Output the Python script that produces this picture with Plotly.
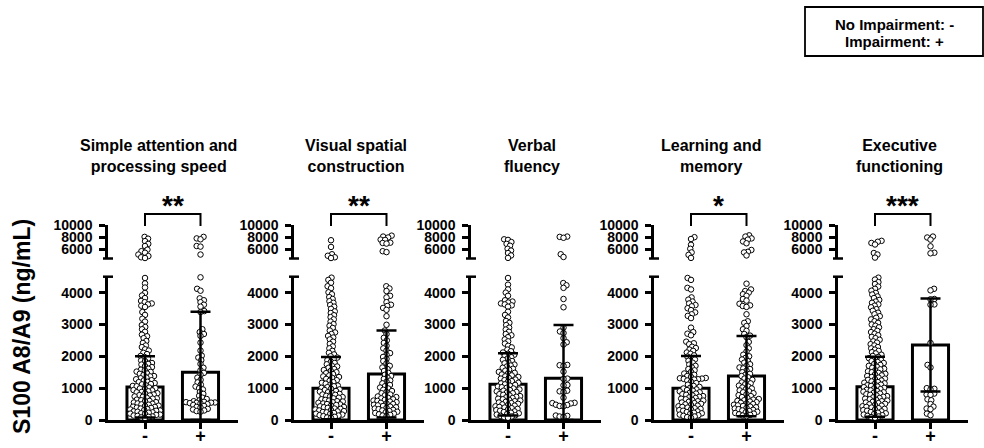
import math
import plotly.graph_objects as go

# ---------------------------------------------------------------- data
domains = [
    "Simple attention and<br>processing speed",
    "Visual spatial<br>construction",
    "Verbal<br>fluency",
    "Learning and<br>memory",
    "Executive<br>functioning",
]
groups = ["-", "+"]
significance = ["**", "**", "", "*", "***"]

# bar heights (ng/mL) and error-bar half lengths, per domain: [no impairment, impairment]
bar_means = [[1040, 1500], [1000, 1445], [1120, 1310], [1000, 1380], [1047, 2355]]
bar_errors = [[960, 1900], [980, 1365], [975, 1675], [1010, 1260], [943, 1460]]

# individual S100 A8/A9 values (ng/mL)
simple_neg = [8050, 7750, 7350, 6900, 6550, 5950, 5700, 5450, 5150, 4900, 4700, 4580,
              4460, 4290, 4160, 3990, 3910, 3830, 3740, 3700, 3660, 3630, 3590, 3550,
              3390, 3300, 3180, 3090, 2980, 2920, 2850, 2770, 2680, 2630, 2570, 2480, 2420,
              2340, 2290, 2220, 2180, 2110, 2070, 2010, 1980, 1930, 1870, 1850, 1790, 1760,
              1740, 1690, 1660, 1610, 1580, 1560, 1520, 1510, 1460, 1450, 1410, 1380, 1370,
              1330, 1310, 1280, 1250, 1240, 1200, 1190, 1160, 1130, 1120, 1090, 1070, 1060,
              1020, 1000, 990, 970, 940, 930, 900, 880, 870, 840, 830, 800, 780, 770, 740,
              730, 700, 680, 670, 640, 620, 600, 590, 560, 550, 520, 510, 490, 480, 450, 440,
              420, 410, 390, 380, 360, 340, 330, 310, 300, 290, 270, 260, 240, 230, 210, 200,
              190, 170, 160, 140, 130, 110, 100, 80, 60]
simple_pos = [8050, 7800, 7650, 6550, 6450, 5150,
              4480, 4120, 4060, 3820, 3760, 3700, 3620, 3560, 3420, 3390, 2850, 2760, 2700,
              2640, 2430, 2180, 2020, 1960, 1880, 1760, 1640, 1560, 1480, 1420, 1330, 1260,
              1180, 1110, 1050, 1000, 960, 880, 820, 760, 700, 660, 620, 590, 570, 560, 550,
              545, 540, 530, 520, 500, 470, 440, 410, 390, 350, 330, 300, 280, 260]

visual_neg = [7500, 6400, 5200, 4950, 4700, 4580,
              4470, 4400, 4310, 4200, 4140, 4010, 3950, 3860, 3800, 3730, 3680, 3610, 3560,
              3490, 3410, 3360, 3290, 3230, 3160, 3090, 3010, 2960, 2890, 2810, 2750, 2700,
              2640, 2590, 2530, 2460, 2390, 2310, 2250, 2170, 2110, 2060, 2000, 1960, 1920,
              1880, 1830, 1790, 1750, 1710, 1680, 1640, 1600, 1570, 1540, 1500, 1470, 1440,
              1400, 1370, 1350, 1320, 1290, 1250, 1230, 1190, 1170, 1140, 1110, 1080, 1060,
              1030, 1010, 980, 960, 940, 910, 890, 870, 850, 820, 800, 790, 760, 740, 720,
              700, 680, 650, 630, 610, 590, 580, 560, 540, 520, 500, 490, 470, 450, 430, 410,
              400, 380, 360, 350, 330, 310, 300, 280, 270, 250, 240, 220, 200, 190, 170, 150,
              140, 120, 100, 80, 70]
visual_pos = [8250, 8100, 7950, 7600, 7550, 7100, 7050, 6950, 5700, 5550,
              4200, 4130, 4050, 3900, 3850, 3700, 3620, 3580, 3520, 3460, 3260, 2990, 2810,
              2700, 2580, 2500, 2420, 2330, 2250, 2180, 2100, 2050, 1980, 1920, 1850, 1780,
              1700, 1650, 1600, 1540, 1480, 1420, 1380, 1330, 1290, 1240, 1200, 1150, 1100,
              1060, 1020, 990, 950, 910, 880, 840, 800, 770, 740, 720, 700, 680, 650, 630,
              610, 600, 580, 560, 540, 520, 500, 480, 460, 440, 420, 400, 380, 360, 340, 320,
              300, 280, 260, 240, 220, 200, 180, 160, 140, 120]

verbal_neg = [7650, 7550, 7200, 6900, 6600, 6100, 5800, 5400, 5000, 4600,
              4460, 4250, 4100, 4000, 3900, 3760, 3720, 3690, 3660, 3630, 3600, 3560, 3400,
              3300, 3220, 3110, 3050, 2980, 2900, 2840, 2770, 2700, 2660, 2600, 2530, 2470,
              2400, 2330, 2280, 2210, 2160, 2120, 2080, 2050, 2010, 1970, 1930, 1890, 1850,
              1810, 1780, 1740, 1710, 1680, 1640, 1610, 1580, 1550, 1510, 1480, 1460, 1430,
              1400, 1370, 1350, 1320, 1300, 1270, 1250, 1220, 1200, 1170, 1150, 1120, 1100,
              1080, 1050, 1030, 1010, 990, 960, 940, 920, 900, 880, 860, 840, 810, 790, 770,
              750, 730, 710, 690, 670, 650, 630, 610, 590, 570, 550, 530, 510, 490, 470, 450,
              430, 410, 390, 370, 350, 330, 310, 290, 270, 250, 230, 210, 190, 170, 150, 130,
              110, 90, 70]
verbal_pos = [8100, 8050, 7900, 5200, 4750,
              4300, 4230, 4150, 3800, 3540, 2900, 2780, 2730, 2570, 2440, 2370, 1730, 1720,
              1700, 1520, 1300, 1290, 1100, 1090, 920, 900, 880, 700, 540, 530, 520, 480,
              470, 440, 430, 140, 130, 110, 100]

learning_neg = [8000, 7700, 6750, 6100, 5500, 5100, 4600,
                4460, 4400, 4150, 4100, 3850, 3780, 3720, 3660, 3610, 3570, 3510, 3450, 3380,
                3320, 3270, 3200, 2900, 2760, 2710, 2660, 2460, 2410, 2380, 2300, 2260, 2210,
                2170, 2120, 2080, 2030, 1990, 1950, 1900, 1860, 1800, 1740, 1700, 1650, 1600,
                1560, 1510, 1460, 1420, 1380, 1350, 1320, 1310, 1300, 1290, 1280, 1270, 1240,
                1200, 1160, 1110, 1070, 1040, 1010, 990, 960, 940, 920, 900, 870, 850, 830,
                810, 790, 770, 750, 730, 710, 690, 670, 650, 630, 610, 590, 570, 550, 530, 510,
                490, 470, 450, 430, 410, 390, 370, 350, 330, 310, 290, 270, 250, 230, 210, 190,
                170, 150, 130, 110, 90, 70]
learning_pos = [8300, 8100, 7800, 7600, 7300, 7000, 5900, 5600, 5500, 5000,
                4280, 4100, 4050, 4000, 3950, 3900, 3800, 3750, 3650, 3600, 3580, 3550, 3320,
                3100, 3050, 2950, 2850, 2800, 2700, 2650, 2600, 2450, 2350, 2250, 2150, 2050,
                2000, 1950, 1900, 1850, 1800, 1750, 1700, 1650, 1620, 1600, 1550, 1500, 1450,
                1420, 1380, 1340, 1300, 1260, 1220, 1180, 1150, 1120, 1080, 1050, 1020, 990,
                960, 930, 900, 870, 840, 810, 780, 750, 720, 690, 660, 640, 620, 600, 580, 560,
                540, 520, 500, 480, 460, 440, 420, 400, 380, 360, 340, 320, 300, 280, 260, 240,
                220, 200, 180, 160, 140, 120]

executive_neg = [7400, 7250, 7050, 6800, 5400, 5150, 4650,
                 4470, 4410, 4330, 4270, 4190, 4120, 4060, 3990, 3940, 3880, 3830, 3770, 3720,
                 3680, 3630, 3590, 3540, 3480, 3430, 3370, 3320, 3260, 3210, 3160, 3100, 3050,
                 3000, 2960, 2910, 2850, 2800, 2760, 2710, 2660, 2610, 2570, 2520, 2470, 2430,
                 2380, 2340, 2290, 2250, 2210, 2170, 2130, 2090, 2050, 2010, 1980, 1940, 1910,
                 1880, 1850, 1820, 1790, 1760, 1730, 1700, 1670, 1640, 1610, 1590, 1560, 1530,
                 1500, 1480, 1450, 1430, 1400, 1380, 1350, 1330, 1300, 1280, 1260, 1240, 1210,
                 1190, 1170, 1150, 1130, 1110, 1090, 1070, 1050, 1030, 1010, 990, 970, 950, 930,
                 910, 890, 870, 850, 830, 810, 790, 770, 750, 730, 710, 690, 670, 650, 630, 610,
                 590, 570, 550, 530, 510, 490, 470, 450, 430, 410, 390, 370, 350, 330, 310, 290,
                 270, 250, 230, 210, 190, 170, 150, 130, 110, 90, 70]
executive_pos = [8100, 7950, 7600, 6500, 5450, 5350,
                 4120, 4070, 3800, 3790, 3630, 3620, 2420, 1730, 1650, 1000, 980, 960, 830,
                 800, 790, 650, 620, 500, 420, 360, 340, 200, 150]

values = [
    [simple_neg, simple_pos],
    [visual_neg, visual_pos],
    [verbal_neg, verbal_pos],
    [learning_neg, learning_pos],
    [executive_neg, executive_pos],
]

# ---------------------------------------------------------------- layout geometry (px)
W, H = 984, 448
PANEL_LEFT = [108, 294, 471, 654, 838]
PANEL_W = 130
PX_PER_UNIT = 55.5
X_RANGE = [-37 / PX_PER_UNIT, (PANEL_W - 37) / PX_PER_UNIT]
LOW_RANGE, HIGH_RANGE = [0, 4500], [4500, 10000]
LOW_PX = (420.0, 276.7)     # bottom, top of lower segment
HIGH_PX = (258.5, 225.0)    # bottom, top of upper segment
TITLE_X = [158, 356, 532, 711, 899]
FONT = "Liberation Sans, Arial, sans-serif"
BREAK = 4500


def fx(px):
    return px / W


def fy(py):
    return 1 - py / H


def screen_y(v):
    if v > BREAK:
        b, t = HIGH_PX
        return b - (v - HIGH_RANGE[0]) * (b - t) / (HIGH_RANGE[1] - HIGH_RANGE[0])
    b, t = LOW_PX
    return b - (v - LOW_RANGE[0]) * (b - t) / (LOW_RANGE[1] - LOW_RANGE[0])


def swarm(vals, dist=3.9, half=16.0):
    """Beeswarm offsets (px) so that point markers do not pile up."""
    order = sorted(range(len(vals)), key=lambda k: vals[k])
    placed, offs = [], [0.0] * len(vals)
    for n, k in enumerate(order):
        y = screen_y(vals[k])
        d = dist
        while True:
            near = [(px, py) for px, py in placed if abs(py - y) < d]
            cands = [0.0]
            for px, py in near:
                dx = math.sqrt(d * d - (py - y) ** 2)
                cands += [px - dx, px + dx]
            sgn = 1 if n % 2 else -1
            cands.sort(key=lambda c: (round(abs(c), 3), sgn * c))
            pick = None
            for c in cands:
                if abs(c) > half:
                    continue
                if all((c - px) ** 2 + (y - py) ** 2 >= d * d - 1e-6 for px, py in near):
                    pick = c
                    break
            if pick is not None:
                break
            d *= 0.85
        offs[k] = pick
        placed.append((pick, y))
    return offs


fig = go.Figure()
shapes, annotations = [], []
marker_style = dict(symbol="circle", size=5.5, color="white", line=dict(color="black", width=1))
axis_common = dict(showline=True, linecolor="black", linewidth=2.5, showgrid=False, zeroline=False,
                   automargin=False, ticks="outside", ticklen=6, tickwidth=2.5, tickcolor="black",
                   tickfont=dict(family=FONT, size=14, color="black", weight="bold"))

for i in range(5):
    xa = "x" if i == 0 else f"x{i + 1}"
    ylo = "y" if i == 0 else f"y{2 * i + 1}"
    yhi = f"y{2 * i + 2}"
    left = PANEL_LEFT[i]

    fig.add_trace(go.Bar(x=[0, 1], y=bar_means[i], width=0.65, xaxis=xa, yaxis=ylo,
                         marker=dict(color="white", line=dict(color="black", width=3))))

    for g in range(2):
        vals = values[i][g]
        offs = swarm(vals)
        lo = [(g + o / PX_PER_UNIT, v) for v, o in zip(vals, offs) if v <= BREAK]
        hi = [(g + o / PX_PER_UNIT, v) for v, o in zip(vals, offs) if v > BREAK]
        fig.add_trace(go.Scatter(x=[p[0] for p in lo], y=[p[1] for p in lo], mode="markers",
                                 xaxis=xa, yaxis=ylo, marker=marker_style, cliponaxis=False))
        fig.add_trace(go.Scatter(x=[p[0] for p in hi], y=[p[1] for p in hi], mode="markers",
                                 xaxis=xa, yaxis=yhi, marker=marker_style, cliponaxis=False))

    fig.add_trace(go.Scatter(
        x=[0, 1], y=bar_means[i], mode="markers", xaxis=xa, yaxis=ylo, cliponaxis=False,
        marker=dict(size=1, color="rgba(0,0,0,0)"),
        error_y=dict(type="data", symmetric=False, array=bar_errors[i],
                     arrayminus=[min(e, m) for e, m in zip(bar_errors[i], bar_means[i])],
                     color="black", thickness=2.5, width=10)))

    xname = "xaxis" if i == 0 else f"xaxis{i + 1}"
    loname = "yaxis" if i == 0 else f"yaxis{2 * i + 1}"
    hiname = f"yaxis{2 * i + 2}"
    fig.update_layout(**{
        xname: dict(axis_common, domain=[fx(left), fx(left + PANEL_W)], range=X_RANGE,
                    anchor=ylo, tickvals=[0, 1], ticktext=groups, ticklabelstandoff=-8,
                    tickfont=dict(family=FONT, size=18, color="black", weight="bold")),
        loname: dict(axis_common, domain=[fy(LOW_PX[0]), fy(LOW_PX[1])], range=LOW_RANGE,
                     anchor=xa, tickvals=[0, 1000, 2000, 3000, 4000], tickformat="d",
                     ticklabelstandoff=4),
        hiname: dict(axis_common, domain=[fy(HIGH_PX[0]), fy(HIGH_PX[1])], range=HIGH_RANGE,
                     anchor=xa, tickvals=[6000, 8000, 10000], tickformat="d",
                     ticklabelstandoff=4),
    })

    # axis-break caps
    for py in (LOW_PX[1], HIGH_PX[0]):
        shapes.append(dict(type="line", xref="paper", yref="paper", x0=fx(left - 5), x1=fx(left + 5),
                           y0=fy(py), y1=fy(py), line=dict(color="black", width=2.5)))

    annotations.append(dict(text=domains[i], xref="paper", yref="paper", x=fx(TITLE_X[i]),
                            y=fy(155.5), xanchor="center", yanchor="middle", showarrow=False,
                            font=dict(family=FONT, size=16, color="black", weight="bold")))

    if significance[i]:
        shapes.append(dict(type="path", xref=xa, yref="paper",
                           path=f"M 0,{fy(226)} L 0,{fy(214)} L 1,{fy(214)} L 1,{fy(226)}",
                           line=dict(color="black", width=2)))
        annotations.append(dict(text=significance[i], xref=xa, yref="paper", x=0.5, y=fy(205),
                                xanchor="center", yanchor="middle", showarrow=False,
                                font=dict(family=FONT, size=28, color="black", weight="bold")))

annotations.append(dict(text="S100 A8/A9 (ng/mL)", textangle=-90, xref="paper", yref="paper",
                        x=fx(22), y=fy(327), xanchor="center", yanchor="middle", showarrow=False,
                        font=dict(family=FONT, size=23, color="black", weight="bold")))

# group key box
shapes.append(dict(type="rect", xref="paper", yref="paper", x0=fx(805), x1=fx(983),
                   y0=fy(56), y1=fy(7), line=dict(color="black", width=1.8)))
for text, py in (("No Impairment: -", 24), ("Impairment: +", 41.5)):
    annotations.append(dict(text=text, xref="paper", yref="paper", x=fx(894), y=fy(py),
                            xanchor="center", yanchor="middle", showarrow=False,
                            font=dict(family=FONT, size=15, color="black", weight="bold")))

fig.update_layout(width=W, height=H, autosize=False, margin=dict(l=0, r=0, t=0, b=0),
                  paper_bgcolor="white", plot_bgcolor="rgba(0,0,0,0)", showlegend=False,
                  shapes=shapes, annotations=annotations, barmode="overlay")

fig.write_html("out.html")
